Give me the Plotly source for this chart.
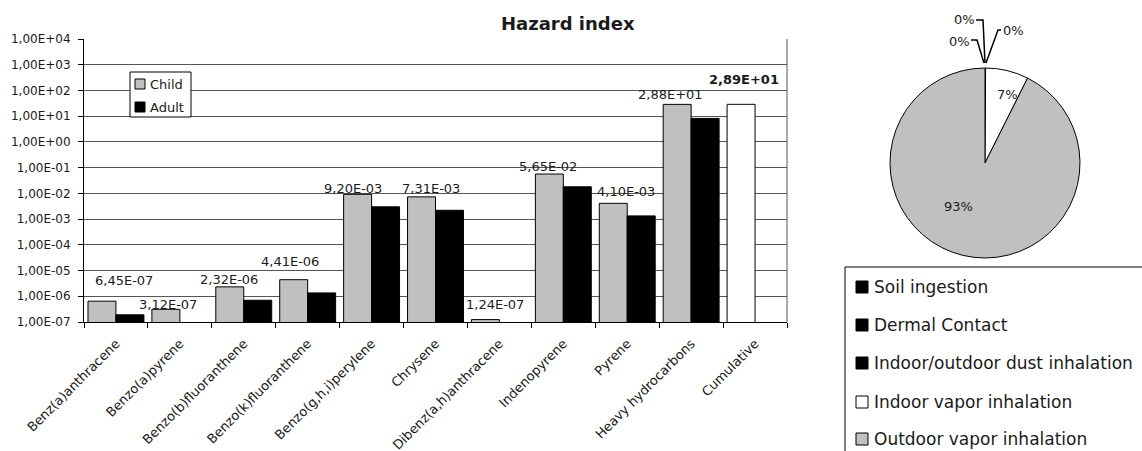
import math
import plotly.graph_objects as go

W, H = 1142, 451
FONT = "DejaVu Sans"
INK = "#1a1a1a"

# ---- Hazard index per compound ----
compounds = [
    "Benz(a)anthracene", "Benzo(a)pyrene", "Benzo(b)fluoranthene",
    "Benzo(k)fluoranthene", "Benzo(g,h,i)perylene", "Chrysene",
    "Dibenz(a,h)anthracene", "Indenopyrene", "Pyrene",
    "Heavy hydrocarbons", "Cumulative",
]
child = [6.45e-07, 3.12e-07, 2.32e-06, 4.41e-06, 9.20e-03, 7.31e-03,
         1.24e-07, 5.65e-02, 4.10e-03, 2.88e+01, 2.89e+01]
adult = [1.9e-07, None, 7.0e-07, 1.35e-06, 3.0e-03, 2.2e-03,
         None, 1.8e-02, 1.33e-03, 8.2e+00, None]
tick_exponents = list(range(-7, 5))

# ---- Exposure pathway shares (%) ----
pathways = ["Soil ingestion", "Dermal Contact", "Indoor/outdoor dust inhalation",
            "Indoor vapor inhalation", "Outdoor vapor inhalation"]
shares = [0.03, 0.05, 0.02, 7.3, 92.6]

CHILD_C, ADULT_C, CUM_C = "#c0c0c0", "#000000", "#ffffff"
pie_colors = ["#000000", "#000000", "#000000", "#ffffff", "#c0c0c0"]

# label nudges (px) for the value labels above the child bars
lab_dx = [8, -12, -14.5, -18, -19, -5, -4, -15.5, -1, -20.5, -11]
lab_dy = [21, 5, 7, 18, 6, 8, 15, 8, 12, 10, 25]


def fx(x):
    return x / W


def fy(y):
    return 1 - y / H


def sci(v):
    return f"{v:.2E}".replace(".", ",")


fig = go.Figure()

bar_colors = [CHILD_C] * (len(child) - 1) + [CUM_C]
fig.add_trace(go.Bar(
    x=compounds, y=child, name="Child",
    marker=dict(color=bar_colors, line=dict(color="#000", width=1)),
    showlegend=False, hoverinfo="x+y",
))
fig.add_trace(go.Bar(
    x=compounds, y=adult, name="Adult",
    marker=dict(color=ADULT_C, line=dict(color="#000", width=1)),
    showlegend=False, hoverinfo="x+y",
))

fig.add_trace(go.Pie(
    labels=pathways, values=shares, sort=False, direction="clockwise",
    rotation=0, marker=dict(colors=pie_colors, line=dict(color="#000", width=1)),
    textinfo="none", showlegend=False, hoverinfo="label+percent",
    domain=dict(x=[fx(890), fx(1080)], y=[fy(258), fy(68)]),
))

annotations = []
shapes = []

# value labels above the child bars
for i, (cat, v) in enumerate(zip(compounds, child)):
    last = i == len(child) - 1
    annotations.append(dict(
        x=cat, y=math.log10(v), xref="x", yref="y",
        text=f"<b>{sci(v)}</b>" if last else sci(v),
        showarrow=False, xshift=lab_dx[i], yshift=lab_dy[i],
        xanchor="center", yanchor="middle",
        font=dict(family=FONT, size=13, color=INK),
    ))

# title
annotations.append(dict(
    x=fx(568), y=fy(23), xref="paper", yref="paper", text="<b>Hazard index</b>",
    showarrow=False, xanchor="center", yanchor="middle",
    font=dict(family=FONT, size=18, color=INK),
))

# Child / Adult key
shapes.append(dict(type="rect", xref="paper", yref="paper",
                   x0=fx(130), x1=fx(191), y0=fy(72), y1=fy(117),
                   line=dict(color="#000", width=1), fillcolor="#fff", layer="above"))
for name, col, yc in [("Child", CHILD_C, 84), ("Adult", ADULT_C, 107)]:
    shapes.append(dict(type="rect", xref="paper", yref="paper",
                       x0=fx(135), x1=fx(145), y0=fy(yc + 5), y1=fy(yc - 5),
                       line=dict(color="#000", width=1), fillcolor=col, layer="above"))
    annotations.append(dict(x=fx(148), y=fy(yc), xref="paper", yref="paper",
                            text=name, showarrow=False, xanchor="left", yanchor="middle",
                            font=dict(family=FONT, size=13, color=INK)))

# pie percentage labels
total = sum(shares)
pct = [f"{round(s / total * 100)}%" for s in shares]
for txt, (x, y) in zip(pct[:3], [(964, 20), (959, 41), (1013, 30)]):
    annotations.append(dict(x=fx(x), y=fy(y), xref="paper", yref="paper", text=txt,
                            showarrow=False, xanchor="center", yanchor="middle",
                            font=dict(family=FONT, size=13, color=INK)))
for txt, (x, y) in zip(pct[3:], [(1007, 94), (958, 206)]):
    annotations.append(dict(x=fx(x), y=fy(y), xref="paper", yref="paper", text=txt,
                            showarrow=False, xanchor="center", yanchor="middle",
                            font=dict(family=FONT, size=13, color=INK)))

# leader lines for the small slices
for pts in [[(976, 20), (983, 20), (985, 63)],
            [(971, 40), (977, 40), (984, 63)],
            [(1001, 30), (998, 30), (986, 63)]]:
    path = "M " + " L ".join(f"{fx(a)},{fy(b)}" for a, b in pts)
    shapes.append(dict(type="path", xref="paper", yref="paper", path=path,
                       line=dict(color="#000", width=1.5)))

# pathway key
shapes.append(dict(type="rect", xref="paper", yref="paper",
                   x0=fx(845), x1=fx(1160), y0=fy(470), y1=fy(267),
                   line=dict(color="#000", width=1), fillcolor="rgba(0,0,0,0)"))
for name, col, yc in zip(pathways, pie_colors, [287, 325, 363, 402, 439]):
    shapes.append(dict(type="rect", xref="paper", yref="paper",
                       x0=fx(856), x1=fx(868), y0=fy(yc + 6), y1=fy(yc - 6),
                       line=dict(color="#000", width=1), fillcolor=col))
    annotations.append(dict(x=fx(872), y=fy(yc), xref="paper", yref="paper",
                            text=name, showarrow=False, xanchor="left", yanchor="middle",
                            font=dict(family=FONT, size=17, color=INK)))

fig.update_layout(
    width=W, height=H, margin=dict(l=0, r=0, t=0, b=0, autoexpand=False),
    paper_bgcolor="#fff", plot_bgcolor="#fff",
    barmode="group", bargap=0.125, bargroupgap=0,
    font=dict(family=FONT, color=INK),
    annotations=annotations, shapes=shapes,
    xaxis=dict(
        domain=[fx(84), fx(787)], tickangle=-45, tickson="boundaries",
        ticks="outside", ticklen=5, tickcolor="#000", showline=True,
        linecolor="#000", mirror=False, showgrid=False, automargin=False,
        ticklabelstandoff=8,
        tickfont=dict(family=FONT, size=13, color=INK), fixedrange=True,
    ),
    yaxis=dict(
        domain=[fy(322), fy(39)], type="log", range=[-7, 4],
        tickvals=[10.0 ** e for e in tick_exponents],
        ticktext=[sci(10.0 ** e) for e in tick_exponents],
        ticks="outside", ticklen=5, tickcolor="#000", automargin=False,
        ticklabelstandoff=5,
        showline=True, linecolor="#000", showgrid=True, gridcolor="#555",
        gridwidth=1, tickfont=dict(family=FONT, size=12, color=INK),
        zeroline=False, fixedrange=True,
    ),
)

# right border of the plot area
fig.add_shape(type="line", xref="paper", yref="paper",
              x0=fx(787), x1=fx(787), y0=fy(322), y1=fy(39),
              line=dict(color="#555", width=1))

fig.write_html("out.html")
